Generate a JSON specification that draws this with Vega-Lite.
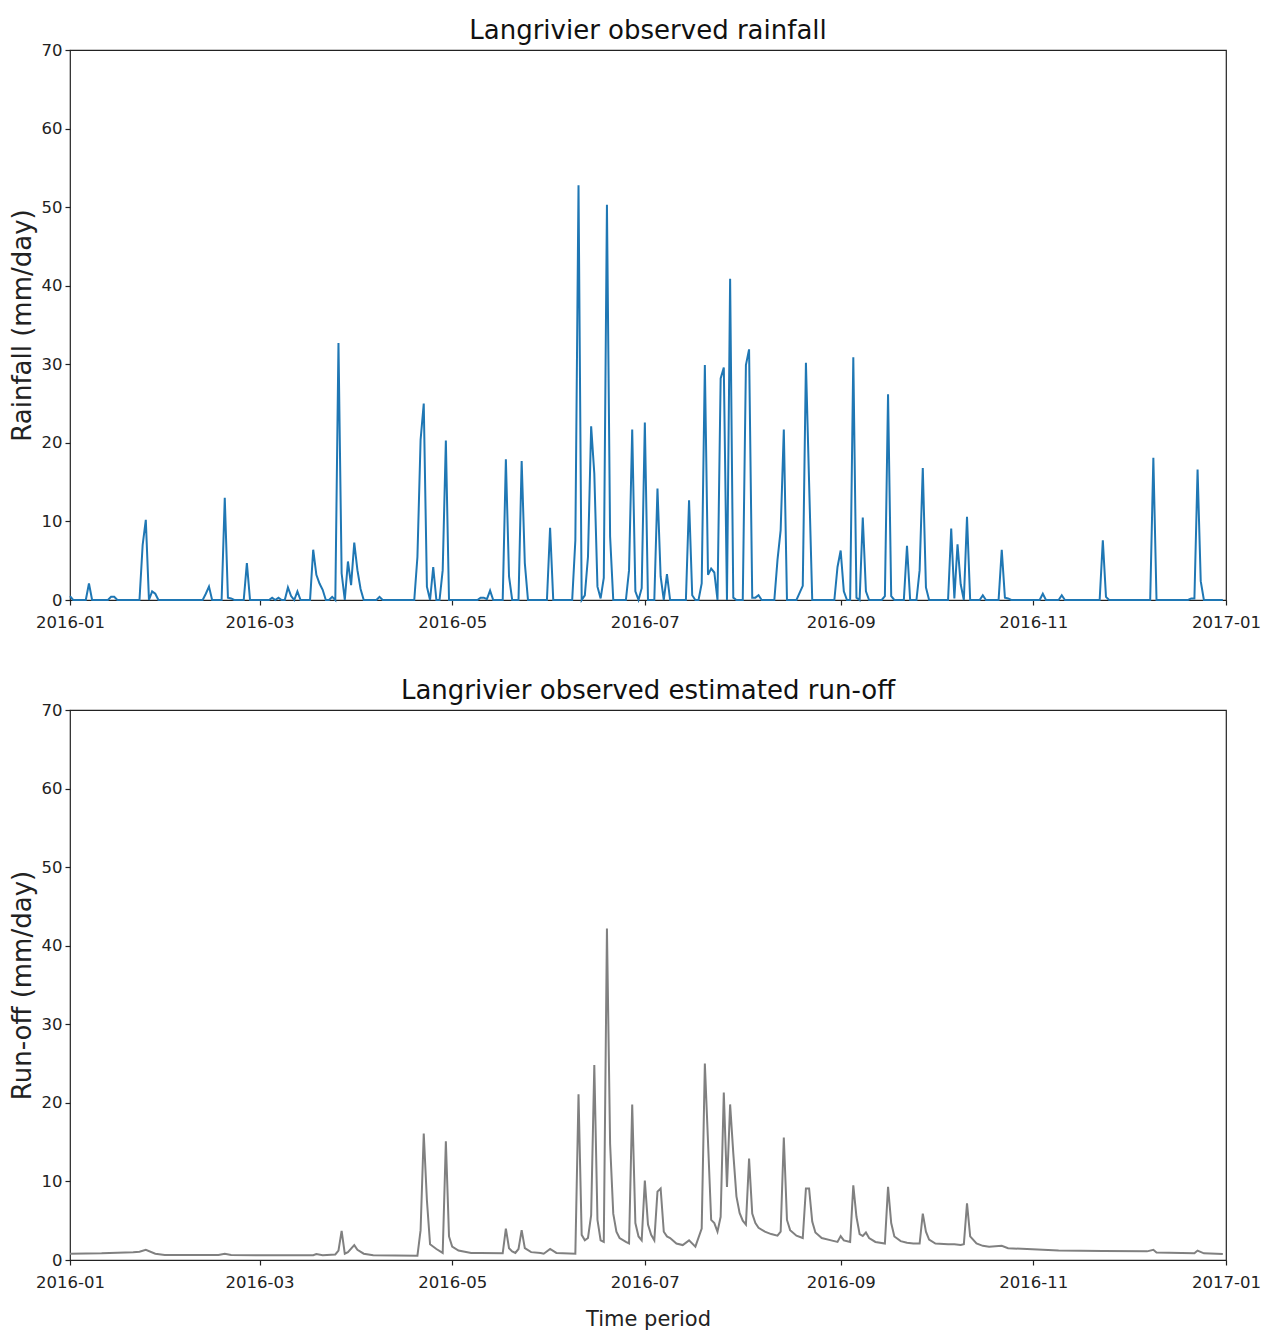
{
  "$schema": "https://vega.github.io/schema/vega-lite/v6.json",
  "background": "white",
  "padding": {"left": 8, "top": 17, "right": 40, "bottom": 0},
  "spacing": 45,
  "config": {
    "font": "DejaVu Sans",
    "view": {"stroke": "#222222", "strokeWidth": 1.2},
    "axis": {"grid": false, "domain": false, "tickColor": "#222222", "tickSize": 5, "tickWidth": 1.2, "labelFontSize": 16.5, "labelColor": "#222222", "labelPadding": 3, "titleFontWeight": "normal", "titleColor": "#222222"},
    "axisX": {"labelPadding": 9},
    "title": {"fontSize": 26, "fontWeight": "normal", "color": "#111111", "offset": -2}
  },
  "datasets": {
    "rain": [
      {"date": "2016-01-01", "rainfall": 0.5}, {"date": "2016-01-02", "rainfall": 0}, {"date": "2016-01-06", "rainfall": 0}, {"date": "2016-01-07", "rainfall": 2.1}, {"date": "2016-01-08", "rainfall": 0},
      {"date": "2016-01-13", "rainfall": 0}, {"date": "2016-01-14", "rainfall": 0.4}, {"date": "2016-01-15", "rainfall": 0.4}, {"date": "2016-01-16", "rainfall": 0},
      {"date": "2016-01-23", "rainfall": 0}, {"date": "2016-01-24", "rainfall": 7.0}, {"date": "2016-01-25", "rainfall": 10.2}, {"date": "2016-01-26", "rainfall": 0}, {"date": "2016-01-27", "rainfall": 1.1}, {"date": "2016-01-28", "rainfall": 0.8}, {"date": "2016-01-29", "rainfall": 0},
      {"date": "2016-02-12", "rainfall": 0}, {"date": "2016-02-13", "rainfall": 0.8}, {"date": "2016-02-14", "rainfall": 1.7}, {"date": "2016-02-15", "rainfall": 0},
      {"date": "2016-02-18", "rainfall": 0}, {"date": "2016-02-19", "rainfall": 13.0}, {"date": "2016-02-20", "rainfall": 0.3}, {"date": "2016-02-21", "rainfall": 0.2}, {"date": "2016-02-22", "rainfall": 0},
      {"date": "2016-02-25", "rainfall": 0}, {"date": "2016-02-26", "rainfall": 4.7}, {"date": "2016-02-27", "rainfall": 0},
      {"date": "2016-03-04", "rainfall": 0}, {"date": "2016-03-05", "rainfall": 0.3}, {"date": "2016-03-06", "rainfall": 0}, {"date": "2016-03-07", "rainfall": 0.3}, {"date": "2016-03-08", "rainfall": 0}, {"date": "2016-03-09", "rainfall": 0},
      {"date": "2016-03-10", "rainfall": 1.6}, {"date": "2016-03-11", "rainfall": 0.5}, {"date": "2016-03-12", "rainfall": 0}, {"date": "2016-03-13", "rainfall": 1.1}, {"date": "2016-03-14", "rainfall": 0},
      {"date": "2016-03-17", "rainfall": 0}, {"date": "2016-03-18", "rainfall": 6.4}, {"date": "2016-03-19", "rainfall": 3.2}, {"date": "2016-03-20", "rainfall": 2.1}, {"date": "2016-03-21", "rainfall": 1.3}, {"date": "2016-03-22", "rainfall": 0},
      {"date": "2016-03-23", "rainfall": 0}, {"date": "2016-03-24", "rainfall": 0.4}, {"date": "2016-03-25", "rainfall": 0}, {"date": "2016-03-26", "rainfall": 32.7}, {"date": "2016-03-27", "rainfall": 3.4}, {"date": "2016-03-28", "rainfall": 0},
      {"date": "2016-03-29", "rainfall": 4.9}, {"date": "2016-03-30", "rainfall": 1.9}, {"date": "2016-03-31", "rainfall": 7.3}, {"date": "2016-04-01", "rainfall": 3.8}, {"date": "2016-04-02", "rainfall": 1.4}, {"date": "2016-04-03", "rainfall": 0},
      {"date": "2016-04-07", "rainfall": 0}, {"date": "2016-04-08", "rainfall": 0.4}, {"date": "2016-04-09", "rainfall": 0},
      {"date": "2016-04-19", "rainfall": 0}, {"date": "2016-04-20", "rainfall": 5.5}, {"date": "2016-04-21", "rainfall": 20.4}, {"date": "2016-04-22", "rainfall": 25.0}, {"date": "2016-04-23", "rainfall": 1.7}, {"date": "2016-04-24", "rainfall": 0},
      {"date": "2016-04-25", "rainfall": 4.2}, {"date": "2016-04-26", "rainfall": 0}, {"date": "2016-04-27", "rainfall": 0}, {"date": "2016-04-28", "rainfall": 3.8}, {"date": "2016-04-29", "rainfall": 20.3}, {"date": "2016-04-30", "rainfall": 0},
      {"date": "2016-05-09", "rainfall": 0}, {"date": "2016-05-10", "rainfall": 0.3}, {"date": "2016-05-11", "rainfall": 0.3}, {"date": "2016-05-12", "rainfall": 0.1}, {"date": "2016-05-13", "rainfall": 1.2}, {"date": "2016-05-14", "rainfall": 0},
      {"date": "2016-05-17", "rainfall": 0}, {"date": "2016-05-18", "rainfall": 17.9}, {"date": "2016-05-19", "rainfall": 3.0}, {"date": "2016-05-20", "rainfall": 0},
      {"date": "2016-05-22", "rainfall": 0}, {"date": "2016-05-23", "rainfall": 17.7}, {"date": "2016-05-24", "rainfall": 4.7}, {"date": "2016-05-25", "rainfall": 0},
      {"date": "2016-05-31", "rainfall": 0}, {"date": "2016-06-01", "rainfall": 9.2}, {"date": "2016-06-02", "rainfall": 0},
      {"date": "2016-06-08", "rainfall": 0}, {"date": "2016-06-09", "rainfall": 7.6}, {"date": "2016-06-10", "rainfall": 52.8}, {"date": "2016-06-11", "rainfall": 0}, {"date": "2016-06-12", "rainfall": 0.6},
      {"date": "2016-06-13", "rainfall": 5.5}, {"date": "2016-06-14", "rainfall": 22.1}, {"date": "2016-06-15", "rainfall": 16.1}, {"date": "2016-06-16", "rainfall": 1.7}, {"date": "2016-06-17", "rainfall": 0.2},
      {"date": "2016-06-18", "rainfall": 2.8}, {"date": "2016-06-19", "rainfall": 50.3}, {"date": "2016-06-20", "rainfall": 8.1}, {"date": "2016-06-21", "rainfall": 0},
      {"date": "2016-06-25", "rainfall": 0}, {"date": "2016-06-26", "rainfall": 3.8}, {"date": "2016-06-27", "rainfall": 21.7}, {"date": "2016-06-28", "rainfall": 1.1}, {"date": "2016-06-29", "rainfall": 0},
      {"date": "2016-06-30", "rainfall": 1.5}, {"date": "2016-07-01", "rainfall": 22.6}, {"date": "2016-07-02", "rainfall": 0},
      {"date": "2016-07-04", "rainfall": 0}, {"date": "2016-07-05", "rainfall": 14.2}, {"date": "2016-07-06", "rainfall": 3.0}, {"date": "2016-07-07", "rainfall": 0}, {"date": "2016-07-08", "rainfall": 3.3}, {"date": "2016-07-09", "rainfall": 0},
      {"date": "2016-07-14", "rainfall": 0}, {"date": "2016-07-15", "rainfall": 12.7}, {"date": "2016-07-16", "rainfall": 0.6}, {"date": "2016-07-17", "rainfall": 0}, {"date": "2016-07-18", "rainfall": 0},
      {"date": "2016-07-19", "rainfall": 2.1}, {"date": "2016-07-20", "rainfall": 29.9}, {"date": "2016-07-21", "rainfall": 3.2}, {"date": "2016-07-22", "rainfall": 4.0}, {"date": "2016-07-23", "rainfall": 3.5}, {"date": "2016-07-24", "rainfall": 0},
      {"date": "2016-07-25", "rainfall": 28.2}, {"date": "2016-07-26", "rainfall": 29.6}, {"date": "2016-07-27", "rainfall": 0}, {"date": "2016-07-28", "rainfall": 40.9}, {"date": "2016-07-29", "rainfall": 0.3}, {"date": "2016-07-30", "rainfall": 0},
      {"date": "2016-08-01", "rainfall": 0}, {"date": "2016-08-02", "rainfall": 29.9}, {"date": "2016-08-03", "rainfall": 31.9}, {"date": "2016-08-04", "rainfall": 0.3}, {"date": "2016-08-05", "rainfall": 0.3}, {"date": "2016-08-06", "rainfall": 0.6}, {"date": "2016-08-07", "rainfall": 0},
      {"date": "2016-08-11", "rainfall": 0}, {"date": "2016-08-12", "rainfall": 5.1}, {"date": "2016-08-13", "rainfall": 8.9}, {"date": "2016-08-14", "rainfall": 21.7}, {"date": "2016-08-15", "rainfall": 0},
      {"date": "2016-08-18", "rainfall": 0}, {"date": "2016-08-19", "rainfall": 0.9}, {"date": "2016-08-20", "rainfall": 1.8}, {"date": "2016-08-21", "rainfall": 30.2}, {"date": "2016-08-22", "rainfall": 15.0}, {"date": "2016-08-23", "rainfall": 0},
      {"date": "2016-08-30", "rainfall": 0}, {"date": "2016-08-31", "rainfall": 4.2}, {"date": "2016-09-01", "rainfall": 6.3}, {"date": "2016-09-02", "rainfall": 1.1}, {"date": "2016-09-03", "rainfall": 0}, {"date": "2016-09-04", "rainfall": 0},
      {"date": "2016-09-05", "rainfall": 30.9}, {"date": "2016-09-06", "rainfall": 0.3}, {"date": "2016-09-07", "rainfall": 0}, {"date": "2016-09-08", "rainfall": 10.5}, {"date": "2016-09-09", "rainfall": 1.1}, {"date": "2016-09-10", "rainfall": 0},
      {"date": "2016-09-14", "rainfall": 0}, {"date": "2016-09-15", "rainfall": 0.5}, {"date": "2016-09-16", "rainfall": 26.2}, {"date": "2016-09-17", "rainfall": 0.5}, {"date": "2016-09-18", "rainfall": 0},
      {"date": "2016-09-21", "rainfall": 0}, {"date": "2016-09-22", "rainfall": 6.9}, {"date": "2016-09-23", "rainfall": 0},
      {"date": "2016-09-25", "rainfall": 0}, {"date": "2016-09-26", "rainfall": 3.8}, {"date": "2016-09-27", "rainfall": 16.8}, {"date": "2016-09-28", "rainfall": 1.6}, {"date": "2016-09-29", "rainfall": 0},
      {"date": "2016-10-05", "rainfall": 0}, {"date": "2016-10-06", "rainfall": 9.1}, {"date": "2016-10-07", "rainfall": 0.2}, {"date": "2016-10-08", "rainfall": 7.1}, {"date": "2016-10-09", "rainfall": 2.0}, {"date": "2016-10-10", "rainfall": 0},
      {"date": "2016-10-11", "rainfall": 10.6}, {"date": "2016-10-12", "rainfall": 0},
      {"date": "2016-10-15", "rainfall": 0}, {"date": "2016-10-16", "rainfall": 0.6}, {"date": "2016-10-17", "rainfall": 0},
      {"date": "2016-10-21", "rainfall": 0}, {"date": "2016-10-22", "rainfall": 6.4}, {"date": "2016-10-23", "rainfall": 0.3}, {"date": "2016-10-24", "rainfall": 0.2}, {"date": "2016-10-25", "rainfall": 0},
      {"date": "2016-11-03", "rainfall": 0}, {"date": "2016-11-04", "rainfall": 0.8}, {"date": "2016-11-05", "rainfall": 0},
      {"date": "2016-11-09", "rainfall": 0}, {"date": "2016-11-10", "rainfall": 0.6}, {"date": "2016-11-11", "rainfall": 0},
      {"date": "2016-11-22", "rainfall": 0}, {"date": "2016-11-23", "rainfall": 7.6}, {"date": "2016-11-24", "rainfall": 0.4}, {"date": "2016-11-25", "rainfall": 0},
      {"date": "2016-12-08", "rainfall": 0}, {"date": "2016-12-09", "rainfall": 18.1}, {"date": "2016-12-10", "rainfall": 0},
      {"date": "2016-12-20", "rainfall": 0}, {"date": "2016-12-21", "rainfall": 0.2}, {"date": "2016-12-22", "rainfall": 0.2}, {"date": "2016-12-23", "rainfall": 16.6}, {"date": "2016-12-24", "rainfall": 2.4}, {"date": "2016-12-25", "rainfall": 0},
      {"date": "2016-12-31", "rainfall": 0}
    ],
    "runoff": [
      {"date": "2016-01-01", "runoff": 0.8}, {"date": "2016-01-11", "runoff": 0.85}, {"date": "2016-01-21", "runoff": 1.0}, {"date": "2016-01-23", "runoff": 1.05}, {"date": "2016-01-25", "runoff": 1.3},
      {"date": "2016-01-28", "runoff": 0.8}, {"date": "2016-01-31", "runoff": 0.65}, {"date": "2016-02-17", "runoff": 0.65}, {"date": "2016-02-19", "runoff": 0.8}, {"date": "2016-02-21", "runoff": 0.65},
      {"date": "2016-03-01", "runoff": 0.6}, {"date": "2016-03-18", "runoff": 0.6}, {"date": "2016-03-19", "runoff": 0.75}, {"date": "2016-03-21", "runoff": 0.6}, {"date": "2016-03-25", "runoff": 0.7},
      {"date": "2016-03-26", "runoff": 1.2}, {"date": "2016-03-27", "runoff": 3.7}, {"date": "2016-03-28", "runoff": 0.8}, {"date": "2016-03-29", "runoff": 1.0}, {"date": "2016-03-31", "runoff": 1.9},
      {"date": "2016-04-01", "runoff": 1.3}, {"date": "2016-04-03", "runoff": 0.8}, {"date": "2016-04-06", "runoff": 0.6}, {"date": "2016-04-20", "runoff": 0.55}, {"date": "2016-04-21", "runoff": 3.8},
      {"date": "2016-04-22", "runoff": 16.1}, {"date": "2016-04-23", "runoff": 7.6}, {"date": "2016-04-24", "runoff": 2.0}, {"date": "2016-04-26", "runoff": 1.4}, {"date": "2016-04-28", "runoff": 0.9},
      {"date": "2016-04-29", "runoff": 15.1}, {"date": "2016-04-30", "runoff": 3.0}, {"date": "2016-05-01", "runoff": 1.7}, {"date": "2016-05-03", "runoff": 1.2}, {"date": "2016-05-07", "runoff": 0.9},
      {"date": "2016-05-10", "runoff": 0.9}, {"date": "2016-05-17", "runoff": 0.85}, {"date": "2016-05-18", "runoff": 4.0}, {"date": "2016-05-19", "runoff": 1.5}, {"date": "2016-05-20", "runoff": 1.1},
      {"date": "2016-05-21", "runoff": 0.9}, {"date": "2016-05-22", "runoff": 1.4}, {"date": "2016-05-23", "runoff": 3.8}, {"date": "2016-05-24", "runoff": 1.5}, {"date": "2016-05-26", "runoff": 1.0},
      {"date": "2016-05-29", "runoff": 0.9}, {"date": "2016-05-30", "runoff": 0.8}, {"date": "2016-06-01", "runoff": 1.4}, {"date": "2016-06-03", "runoff": 0.9}, {"date": "2016-06-09", "runoff": 0.8},
      {"date": "2016-06-10", "runoff": 21.1}, {"date": "2016-06-11", "runoff": 3.2}, {"date": "2016-06-12", "runoff": 2.5}, {"date": "2016-06-13", "runoff": 2.8}, {"date": "2016-06-14", "runoff": 5.7},
      {"date": "2016-06-15", "runoff": 24.8}, {"date": "2016-06-16", "runoff": 5.1}, {"date": "2016-06-17", "runoff": 2.5}, {"date": "2016-06-18", "runoff": 2.3}, {"date": "2016-06-19", "runoff": 42.2},
      {"date": "2016-06-20", "runoff": 14.8}, {"date": "2016-06-21", "runoff": 5.9}, {"date": "2016-06-22", "runoff": 3.6}, {"date": "2016-06-23", "runoff": 2.8}, {"date": "2016-06-25", "runoff": 2.3},
      {"date": "2016-06-26", "runoff": 2.1}, {"date": "2016-06-27", "runoff": 19.8}, {"date": "2016-06-28", "runoff": 4.7}, {"date": "2016-06-29", "runoff": 3.0}, {"date": "2016-06-30", "runoff": 2.5},
      {"date": "2016-07-01", "runoff": 10.1}, {"date": "2016-07-02", "runoff": 4.5}, {"date": "2016-07-03", "runoff": 3.2}, {"date": "2016-07-04", "runoff": 2.5}, {"date": "2016-07-05", "runoff": 8.7},
      {"date": "2016-07-06", "runoff": 9.1}, {"date": "2016-07-07", "runoff": 3.6}, {"date": "2016-07-08", "runoff": 3.0}, {"date": "2016-07-09", "runoff": 2.8}, {"date": "2016-07-11", "runoff": 2.1},
      {"date": "2016-07-13", "runoff": 1.9}, {"date": "2016-07-15", "runoff": 2.5}, {"date": "2016-07-17", "runoff": 1.7}, {"date": "2016-07-19", "runoff": 4.0}, {"date": "2016-07-20", "runoff": 25.0},
      {"date": "2016-07-22", "runoff": 5.1}, {"date": "2016-07-23", "runoff": 4.7}, {"date": "2016-07-24", "runoff": 3.6}, {"date": "2016-07-25", "runoff": 5.5}, {"date": "2016-07-26", "runoff": 21.3},
      {"date": "2016-07-27", "runoff": 9.3}, {"date": "2016-07-28", "runoff": 19.8}, {"date": "2016-07-29", "runoff": 13.6}, {"date": "2016-07-30", "runoff": 8.1}, {"date": "2016-07-31", "runoff": 6.0},
      {"date": "2016-08-01", "runoff": 5.0}, {"date": "2016-08-02", "runoff": 4.5}, {"date": "2016-08-03", "runoff": 12.9}, {"date": "2016-08-04", "runoff": 5.9}, {"date": "2016-08-05", "runoff": 4.7},
      {"date": "2016-08-06", "runoff": 4.1}, {"date": "2016-08-08", "runoff": 3.6}, {"date": "2016-08-10", "runoff": 3.3}, {"date": "2016-08-12", "runoff": 3.1}, {"date": "2016-08-13", "runoff": 3.6},
      {"date": "2016-08-14", "runoff": 15.6}, {"date": "2016-08-15", "runoff": 5.1}, {"date": "2016-08-16", "runoff": 3.8}, {"date": "2016-08-18", "runoff": 3.1}, {"date": "2016-08-20", "runoff": 2.8},
      {"date": "2016-08-21", "runoff": 9.1}, {"date": "2016-08-22", "runoff": 9.1}, {"date": "2016-08-23", "runoff": 4.9}, {"date": "2016-08-24", "runoff": 3.5}, {"date": "2016-08-26", "runoff": 2.8},
      {"date": "2016-08-29", "runoff": 2.5}, {"date": "2016-08-31", "runoff": 2.3}, {"date": "2016-09-01", "runoff": 3.05}, {"date": "2016-09-02", "runoff": 2.5}, {"date": "2016-09-04", "runoff": 2.3},
      {"date": "2016-09-05", "runoff": 9.5}, {"date": "2016-09-06", "runoff": 5.5}, {"date": "2016-09-07", "runoff": 3.3}, {"date": "2016-09-08", "runoff": 3.05}, {"date": "2016-09-09", "runoff": 3.5},
      {"date": "2016-09-10", "runoff": 2.8}, {"date": "2016-09-12", "runoff": 2.3}, {"date": "2016-09-15", "runoff": 2.1}, {"date": "2016-09-16", "runoff": 9.3}, {"date": "2016-09-17", "runoff": 4.7},
      {"date": "2016-09-18", "runoff": 3.0}, {"date": "2016-09-20", "runoff": 2.4}, {"date": "2016-09-22", "runoff": 2.2}, {"date": "2016-09-24", "runoff": 2.1}, {"date": "2016-09-26", "runoff": 2.1},
      {"date": "2016-09-27", "runoff": 5.9}, {"date": "2016-09-28", "runoff": 3.6}, {"date": "2016-09-29", "runoff": 2.6}, {"date": "2016-10-01", "runoff": 2.1}, {"date": "2016-10-05", "runoff": 2.0},
      {"date": "2016-10-07", "runoff": 2.0}, {"date": "2016-10-09", "runoff": 1.9}, {"date": "2016-10-10", "runoff": 2.0}, {"date": "2016-10-11", "runoff": 7.2}, {"date": "2016-10-12", "runoff": 3.0},
      {"date": "2016-10-14", "runoff": 2.1}, {"date": "2016-10-16", "runoff": 1.8}, {"date": "2016-10-18", "runoff": 1.7}, {"date": "2016-10-22", "runoff": 1.8}, {"date": "2016-10-24", "runoff": 1.5},
      {"date": "2016-10-30", "runoff": 1.4}, {"date": "2016-11-09", "runoff": 1.2}, {"date": "2016-11-23", "runoff": 1.15}, {"date": "2016-12-07", "runoff": 1.1}, {"date": "2016-12-09", "runoff": 1.3},
      {"date": "2016-12-10", "runoff": 0.95}, {"date": "2016-12-22", "runoff": 0.85}, {"date": "2016-12-23", "runoff": 1.2}, {"date": "2016-12-25", "runoff": 0.85}, {"date": "2016-12-31", "runoff": 0.75}
    ]
  },
  "vconcat": [
    {
      "width": 1156,
      "height": 550,
      "title": {"text": "Langrivier observed rainfall"},
      "data": {"name": "rain"},
      "mark": {"type": "line", "color": "#1f77b4", "strokeWidth": 2},
      "encoding": {
        "x": {
          "field": "date", "type": "temporal",
          "scale": {"type": "utc", "nice": false, "domain": [{"year": 2016, "month": 1, "date": 1, "utc": true}, {"year": 2017, "month": 1, "date": 1, "utc": true}]},
          "axis": {"title": null, "format": "%Y-%m", "labelFlush": false, "labelOverlap": false,
            "values": [{"year": 2016, "month": 1, "date": 1, "utc": true}, {"year": 2016, "month": 3, "date": 1, "utc": true}, {"year": 2016, "month": 5, "date": 1, "utc": true}, {"year": 2016, "month": 7, "date": 1, "utc": true}, {"year": 2016, "month": 9, "date": 1, "utc": true}, {"year": 2016, "month": 11, "date": 1, "utc": true}, {"year": 2017, "month": 1, "date": 1, "utc": true}]}
        },
        "y": {
          "field": "rainfall", "type": "quantitative",
          "scale": {"domain": [0, 70], "nice": false},
          "axis": {"title": "Rainfall (mm/day)", "titleFontSize": 26, "titlePadding": 6, "values": [0, 10, 20, 30, 40, 50, 60, 70]}
        }
      }
    },
    {
      "width": 1156,
      "height": 550,
      "title": {"text": "Langrivier observed estimated run-off"},
      "data": {"name": "runoff"},
      "mark": {"type": "line", "color": "#808080", "strokeWidth": 2},
      "encoding": {
        "x": {
          "field": "date", "type": "temporal",
          "scale": {"type": "utc", "nice": false, "domain": [{"year": 2016, "month": 1, "date": 1, "utc": true}, {"year": 2017, "month": 1, "date": 1, "utc": true}]},
          "axis": {"title": "Time period", "titleFontSize": 21, "titlePadding": 18, "format": "%Y-%m", "labelFlush": false, "labelOverlap": false,
            "values": [{"year": 2016, "month": 1, "date": 1, "utc": true}, {"year": 2016, "month": 3, "date": 1, "utc": true}, {"year": 2016, "month": 5, "date": 1, "utc": true}, {"year": 2016, "month": 7, "date": 1, "utc": true}, {"year": 2016, "month": 9, "date": 1, "utc": true}, {"year": 2016, "month": 11, "date": 1, "utc": true}, {"year": 2017, "month": 1, "date": 1, "utc": true}]}
        },
        "y": {
          "field": "runoff", "type": "quantitative",
          "scale": {"domain": [0, 70], "nice": false},
          "axis": {"title": "Run-off (mm/day)", "titleFontSize": 26, "titlePadding": 6, "values": [0, 10, 20, 30, 40, 50, 60, 70]}
        }
      }
    }
  ]
}
